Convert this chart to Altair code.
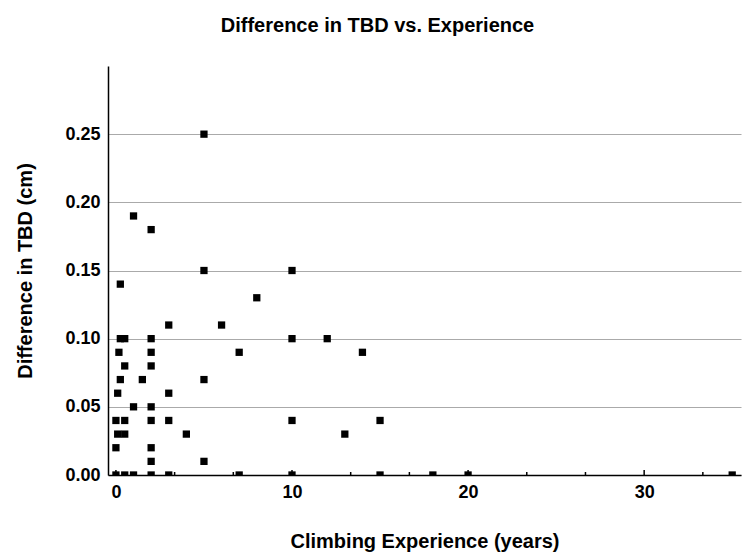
import altair as alt
import pandas as pd

# Climbing experience (years) and change in TBD (cm) for each climber
years = [5, 1, 2, 5, 10, 0.25, 8, 3, 6,
         0.25, 0.5, 2, 10, 12,
         0.17, 2, 7, 14,
         0.5, 2,
         0.25, 1.5, 5,
         0.1, 3,
         1, 2,
         0, 0.5, 2, 3, 10, 15,
         0.1, 0.5, 4, 13,
         0, 2,
         2, 5,
         0, 0.5, 1, 2, 3, 7, 10, 15, 18, 20, 35]
tbd_diff = [0.25, 0.19, 0.18, 0.15, 0.15, 0.14, 0.13, 0.11, 0.11,
            0.10, 0.10, 0.10, 0.10, 0.10,
            0.09, 0.09, 0.09, 0.09,
            0.08, 0.08,
            0.07, 0.07, 0.07,
            0.06, 0.06,
            0.05, 0.05,
            0.04, 0.04, 0.04, 0.04, 0.04, 0.04,
            0.03, 0.03, 0.03, 0.03,
            0.02, 0.02,
            0.01, 0.01,
            0.0, 0.0, 0.0, 0.0, 0.0, 0.0, 0.0, 0.0, 0.0, 0.0, 0.0]

y_ticks = [0.0, 0.05, 0.10, 0.15, 0.20, 0.25]
x_labels = [0, 10, 20, 30]
x_minor = [10 / 3, 20 / 3, 40 / 3, 50 / 3, 70 / 3, 80 / 3, 100 / 3]

FONT = "Liberation Sans"
W, H = 633, 409

df = pd.DataFrame({"years": years, "diff": tbd_diff})
major_df = pd.DataFrame({"t": x_labels})
minor_df = pd.DataFrame({"t": x_minor})

x_scale = alt.Scale(domain=[-0.45, 35.5], nice=False, zero=False)
y_scale = alt.Scale(domain=[0, 0.30], nice=False)

points = alt.Chart(df).mark_square(size=53, color="#000000", opacity=1, clip=True).encode(
    x=alt.X("years:Q", scale=x_scale,
            axis=alt.Axis(title="Climbing Experience (years)", values=x_labels,
                          format="d", ticks=False, grid=False,
                          domainColor="#000000", domainWidth=1.5,
                          labelFont=FONT, labelFontSize=18, labelFontWeight="bold",
                          labelColor="#000000", labelPadding=8,
                          titleFont=FONT, titleFontSize=20, titleFontWeight="bold",
                          titleColor="#000000", titlePadding=30)),
    y=alt.Y("diff:Q", scale=y_scale,
            axis=alt.Axis(title="Difference in TBD (cm)", values=y_ticks,
                          format=".2f", ticks=False, grid=True,
                          gridColor="#aaaaaa", gridWidth=1.2,
                          domainColor="#000000", domainWidth=1.5,
                          labelFont=FONT, labelFontSize=18, labelFontWeight="bold",
                          labelColor="#000000", labelPadding=8,
                          titleFont=FONT, titleFontSize=20, titleFontWeight="bold",
                          titleColor="#000000", titlePadding=29)),
)

# small upward tick marks sitting on the x axis line
major_ticks = alt.Chart(major_df).mark_rule(color="#000000", strokeWidth=1.5).encode(
    x=alt.X("t:Q", scale=x_scale), y=alt.value(H), y2=alt.value(H - 5),
)
minor_ticks = alt.Chart(minor_df).mark_rule(color="#000000", strokeWidth=1.5).encode(
    x=alt.X("t:Q", scale=x_scale), y=alt.value(H), y2=alt.value(H - 3),
)

chart = alt.layer(points, major_ticks, minor_ticks).properties(
    width=W, height=H,
    title=alt.TitleParams("Difference in TBD vs. Experience", font=FONT, fontSize=20,
                          fontWeight="bold", color="#000000", anchor="middle",
                          dx=-47, offset=30),
    autosize=alt.AutoSizeParams(type="none"),
    padding={"left": 108, "top": 66, "right": 9, "bottom": 83},
).configure_view(stroke=None)

chart.save("out.html", embed_options={"renderer": "svg", "actions": False})
